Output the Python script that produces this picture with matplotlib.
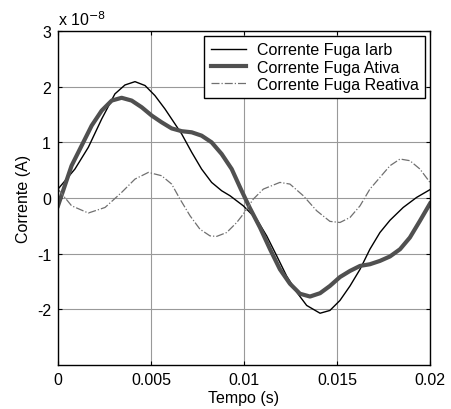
import numpy as np
import matplotlib.pyplot as plt

plt.rcParams['font.family'] = ['Liberation Sans', 'DejaVu Sans']
plt.rcParams['axes.unicode_minus'] = False

# valores em unidades de 1e-8 A
t_iarb = [0.0, 0.00091, 0.00163, 0.00235, 0.00306, 0.0036, 0.00414, 0.00468,
          0.00521, 0.00575, 0.00629, 0.00665, 0.00719, 0.00772, 0.00826, 0.0088,
          0.00925, 0.00996, 0.01068, 0.01122, 0.01176, 0.01229, 0.01283, 0.01337,
          0.01409, 0.01462, 0.01516, 0.0157, 0.01624, 0.01677, 0.01731, 0.01785,
          0.01856, 0.01928, 0.0200]
i_iarb = [0.16, 0.52, 0.91, 1.42, 1.87, 2.03, 2.09, 2.02,
          1.84, 1.60, 1.33, 1.15, 0.82, 0.52, 0.28, 0.13,
          0.04, -0.14, -0.38, -0.68, -1.04, -1.40, -1.69, -1.93,
          -2.07, -2.02, -1.84, -1.58, -1.28, -0.92, -0.62, -0.40,
          -0.17, 0.01, 0.15]

t_ativa = [0.0, 0.00073, 0.00127, 0.00181, 0.00235, 0.00289, 0.00342, 0.00396,
           0.0045, 0.00504, 0.00557, 0.00611, 0.00665, 0.00719, 0.00772, 0.00826,
           0.0088, 0.00934, 0.00983, 0.0103, 0.01086, 0.0114, 0.01193, 0.01247,
           0.01301, 0.01355, 0.01409, 0.01462, 0.01516, 0.0157, 0.01624, 0.01677,
           0.01731, 0.01785, 0.01839, 0.01892, 0.01946, 0.0200]
i_ativa = [-0.14, 0.58, 0.94, 1.30, 1.57, 1.75, 1.80, 1.75,
           1.63, 1.48, 1.36, 1.25, 1.20, 1.18, 1.12, 1.00,
           0.79, 0.52, 0.16, -0.17, -0.53, -0.92, -1.28, -1.54,
           -1.72, -1.77, -1.71, -1.58, -1.42, -1.31, -1.22, -1.19,
           -1.13, -1.05, -0.92, -0.71, -0.41, -0.10]

t_reat = [0.0, 0.00073, 0.00163, 0.00253, 0.00342, 0.00414, 0.00486, 0.00557,
          0.00611, 0.00656, 0.0071, 0.00763, 0.00817, 0.00853, 0.00907, 0.00961,
          0.00996, 0.0105, 0.01104, 0.01193, 0.01247, 0.01319, 0.01391, 0.01462,
          0.01516, 0.0157, 0.01624, 0.01677, 0.01731, 0.01785, 0.01839, 0.01892,
          0.01946, 0.0200]
i_reat = [0.16, -0.14, -0.27, -0.17, 0.10, 0.34, 0.46, 0.40,
          0.25, -0.02, -0.32, -0.56, -0.68, -0.69, -0.62, -0.44,
          -0.29, -0.02, 0.16, 0.28, 0.25, 0.04, -0.23, -0.42,
          -0.44, -0.35, -0.14, 0.16, 0.37, 0.58, 0.70, 0.67,
          0.52, 0.28]

x_ticks = [0, 0.005, 0.01, 0.015, 0.02]
x_labels = ['0', '0.005', '0.01', '0.015', '0.02']
y_ticks = [-2, -1, 0, 1, 2, 3]

fig = plt.figure(figsize=(4.51, 4.10), dpi=100)
ax = fig.add_axes([0.1286, 0.1073, 0.8248, 0.8147])

ax.plot(t_iarb, i_iarb, color='black', lw=1.0, label='Corrente Fuga Iarb')
ax.plot(t_ativa, i_ativa, color='#505050', lw=3.0, label='Corrente Fuga Ativa')
ax.plot(t_reat, i_reat, color='#707070', lw=0.9, ls='-.', label='Corrente Fuga Reativa')

ax.set_xlim(0, 0.02)
ax.set_ylim(-3, 3)
ax.set_xticks(x_ticks)
ax.set_xticklabels(x_labels)
ax.set_yticks(y_ticks)
ax.grid(True, color='#999999', lw=0.8)
ax.tick_params(direction='in', top=True, right=True, labelsize=11.5, length=3, pad=5)
for s in ax.spines.values():
    s.set_linewidth(1.0)

ax.set_xlabel('Tempo (s)', fontsize=11.5, labelpad=2)
ax.set_ylabel('Corrente (A)', fontsize=11.5, labelpad=4)
ax.text(0.0, 1.01, 'x 10$^{-8}$', transform=ax.transAxes, fontsize=11.5,
        ha='left', va='bottom')

leg = ax.legend(loc='upper right', fontsize=11.5, fancybox=False, framealpha=1,
                edgecolor='black', borderpad=0.4, labelspacing=0.15,
                handlelength=2.2, handletextpad=0.7, borderaxespad=0.3)
leg.get_frame().set_linewidth(1.0)

fig.savefig('out.png', dpi=100)
